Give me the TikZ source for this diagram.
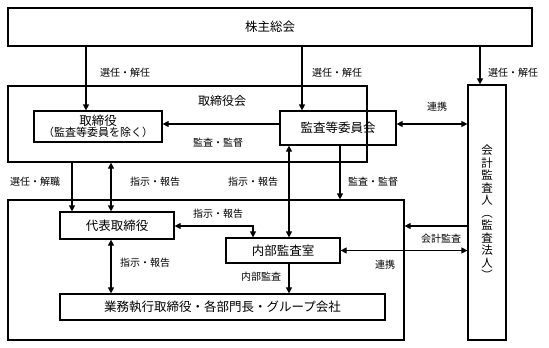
\documentclass[tikz,border=0pt]{standalone}
\usepackage{fontspec}
\setmainfont{Noto Sans CJK JP}
\usetikzlibrary{arrows.meta,calc,positioning}

\begin{document}
\begin{tikzpicture}[x=1pt, y=-1pt, >={Triangle[length=6pt,width=6pt]},
  box/.style={draw, line width=1.2pt, inner sep=0pt, font=\fontsize{12.5}{14}\selectfont},
  lbl/.style={font=\fontsize{10}{11}\selectfont},
  ln/.style={line width=1.2pt}]
  \useasboundingbox (0,0) rectangle (549,348);
  % boxes
  \node[box, minimum width=524pt, minimum height=38pt] (gm) at (270,27) {株主総会};
  \node[box, minimum width=359pt, minimum height=76pt] (board) at (187.5,124) {};
  \node[box, minimum width=128pt, minimum height=31pt, align=center] (dir) at (98,126.5)
    {取締役\\[-3pt]{\fontsize{11}{13}\selectfont（監査等委員を除く）}};
  \node[box, minimum width=116pt, minimum height=34pt] (ac) at (338,128) {監査等委員会};
  \node[box, minimum width=38pt, minimum height=255pt, align=center,
    font=\fontsize{11.5}{12.5}\selectfont] (auditor) at (487,212.5)
    {会\\計\\監\\査\\人\\︵\\監\\査\\法\\人\\︶};
  \node[box, minimum width=396pt, minimum height=140pt] (lower) at (206,270) {};
  \node[box, minimum width=114pt, minimum height=27pt] (rep) at (117,225.5) {代表取締役};
  \node[box, minimum width=114pt, minimum height=25pt] (ia) at (283,250.5) {内部監査室};
  \node[box, minimum width=325pt, minimum height=26pt] (ops) at (222.5,307)
    {業務執行取締役・各部門長・グループ会社};
  \node[font=\fontsize{12}{14}\selectfont] (boardlbl) at (222,101) {取締役会};
  % connectors
  \draw[ln,->] ([xshift=-12pt]dir.north |- gm.south) -- ([xshift=-12pt]dir.north);
  \draw[ln,->] ([xshift=-36pt]ac.north |- gm.south) -- ([xshift=-36pt]ac.north);
  \draw[ln,->] ([xshift=-7pt]auditor.north |- gm.south) -- ([xshift=-7pt]auditor.north);
  \draw[ln,->] (ac.west |- 0,124) -- (dir.east |- 0,124);
  \draw[ln,<->] (ac.east |- 0,124) -- (auditor.west |- 0,124);
  \draw[ln,->] (board.south -| 72,0) -- (rep.north -| 72,0);
  \draw[ln,<->] (board.south -| 111,0) -- (rep.north -| 111,0);
  \draw[ln,<->] (ac.south -| 289,0) -- (ia.north -| 289,0);
  \draw[ln,->] (ac.south -| 340,0) -- (lower.north -| 340,0);
  \draw[ln,<->] (rep.east |- 0,226) -| (ia.north -| 253,0);
  \draw[ln,<->] (rep.south -| 111,0) -- (ops.north -| 111,0);
  \draw[ln,->] (ia.south -| 289,0) -- (ops.north -| 289,0);
  \draw[ln,->] (auditor.west |- 0,226) -- (lower.east |- 0,226);
  \draw[ln,<->] (ia.east) -- (auditor.west |- ia.east);
  % labels
  \node[lbl] (sel1) at (125,73) {選任・解任};
  \node[lbl] (sel2) at (337,73) {選任・解任};
  \node[lbl] (sel3) at (513,73) {選任・解任};
  \node[lbl] (coop1) at (437,107) {連携};
  \node[lbl] (sup1) at (218,143) {監査・監督};
  \node[lbl] (dism) at (35,182) {選任・解職};
  \node[lbl] (rep1) at (155,182) {指示・報告};
  \node[lbl] (rep2) at (253,182) {指示・報告};
  \node[lbl] (sup2) at (373,182) {監査・監督};
  \node[lbl] (rep3) at (218,214) {指示・報告};
  \node[lbl] (acct) at (441,239) {会計監査};
  \node[lbl] (rep4) at (145,263) {指示・報告};
  \node[lbl] (coop2) at (385,265) {連携};
  \node[lbl] (inaud) at (261,277) {内部監査};
\end{tikzpicture}
\end{document}
